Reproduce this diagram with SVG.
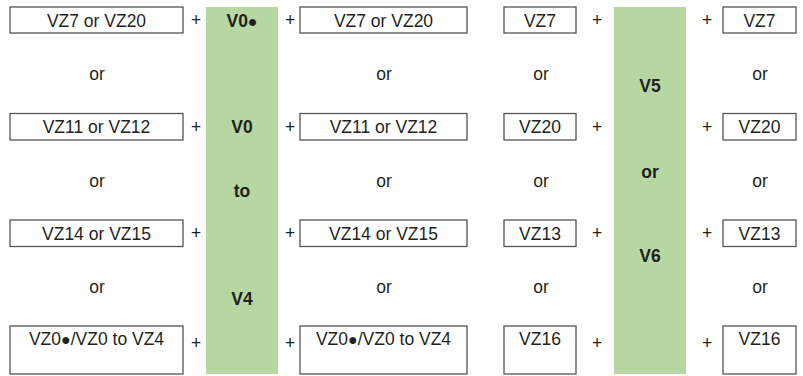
<svg xmlns="http://www.w3.org/2000/svg" width="803" height="376" viewBox="0 0 803 376">
<style>
text{font-family:"Liberation Sans",Arial,sans-serif;font-size:17.5px;fill:#231f20;text-anchor:middle}
.b{fill:#fff;stroke:#555;stroke-width:1.3}
.g{fill:#b6d7a1}
.bold{font-weight:bold}
.dot{font-size:16px}
</style>
<rect width="803" height="376" fill="#fff"/>
<g id="green-left"><rect class="g" x="206" y="7" width="72" height="367"/>
<text class="bold" x="242" y="27">V0<tspan class="dot">●</tspan></text>
<text class="bold" x="242" y="133">V0</text>
<text class="bold" x="242" y="197">to</text>
<text class="bold" x="242" y="305">V4</text></g>
<g id="green-right"><rect class="g" x="614" y="7" width="72" height="367"/>
<text class="bold" x="650" y="92">V5</text>
<text class="bold" x="650" y="178">or</text>
<text class="bold" x="650" y="262">V6</text></g>
<g id="col1">
<g id="c1r1"><rect class="b" x="10" y="7" width="173" height="26"/><text x="96.5" y="26.5">VZ7 or VZ20</text></g>
<text x="97" y="80">or</text>
<g id="c1r2"><rect class="b" x="10" y="113.5" width="173" height="26.5"/><text x="96.5" y="133">VZ11 or VZ12</text></g>
<text x="97" y="187">or</text>
<g id="c1r3"><rect class="b" x="10" y="220" width="173" height="26.5"/><text x="96.5" y="239.5">VZ14 or VZ15</text></g>
<text x="97" y="293">or</text>
<g id="c1r4"><rect class="b" x="10" y="326" width="173" height="48"/><text x="96.5" y="345">VZ0<tspan class="dot">●</tspan>/VZ0 to VZ4</text></g>
</g>
<g id="col2">
<g id="c2r1"><rect class="b" x="300" y="7" width="167" height="26"/><text x="383.5" y="26.5">VZ7 or VZ20</text></g>
<text x="384" y="80">or</text>
<g id="c2r2"><rect class="b" x="300" y="113.5" width="167" height="26.5"/><text x="383.5" y="133">VZ11 or VZ12</text></g>
<text x="384" y="187">or</text>
<g id="c2r3"><rect class="b" x="300" y="220" width="167" height="26.5"/><text x="383.5" y="239.5">VZ14 or VZ15</text></g>
<text x="384" y="293">or</text>
<g id="c2r4"><rect class="b" x="300" y="326" width="167" height="48"/><text x="383.5" y="345">VZ0<tspan class="dot">●</tspan>/VZ0 to VZ4</text></g>
</g>
<g id="col3">
<g id="c3r1"><rect class="b" x="504" y="7" width="72" height="26"/><text x="540" y="26.5">VZ7</text></g>
<text x="541" y="80">or</text>
<g id="c3r2"><rect class="b" x="504" y="113.5" width="72" height="26.5"/><text x="540" y="133">VZ20</text></g>
<text x="541" y="187">or</text>
<g id="c3r3"><rect class="b" x="504" y="220" width="72" height="26.5"/><text x="540" y="239.5">VZ13</text></g>
<text x="541" y="293">or</text>
<g id="c3r4"><rect class="b" x="504" y="326" width="72" height="48"/><text x="540" y="345">VZ16</text></g>
</g>
<g id="col4">
<g id="c4r1"><rect class="b" x="723" y="7" width="73" height="26"/><text x="759.5" y="26.5">VZ7</text></g>
<text x="760" y="80">or</text>
<g id="c4r2"><rect class="b" x="723" y="113.5" width="73" height="26.5"/><text x="759.5" y="133">VZ20</text></g>
<text x="760" y="187">or</text>
<g id="c4r3"><rect class="b" x="723" y="220" width="73" height="26.5"/><text x="759.5" y="239.5">VZ13</text></g>
<text x="760" y="293">or</text>
<g id="c4r4"><rect class="b" x="723" y="326" width="73" height="48"/><text x="759.5" y="345">VZ16</text></g>
</g>
<g id="connectors">
<text x="196" y="26">+</text><text x="290" y="26">+</text><text x="597" y="26">+</text><text x="707" y="26">+</text>
<text x="196" y="133">+</text><text x="290" y="133">+</text><text x="597" y="133">+</text><text x="707" y="133">+</text>
<text x="196" y="239">+</text><text x="290" y="239">+</text><text x="597" y="239">+</text><text x="707" y="239">+</text>
<text x="196" y="349">+</text><text x="290" y="349">+</text><text x="597" y="349">+</text><text x="707" y="349">+</text>
</g>
</svg>
